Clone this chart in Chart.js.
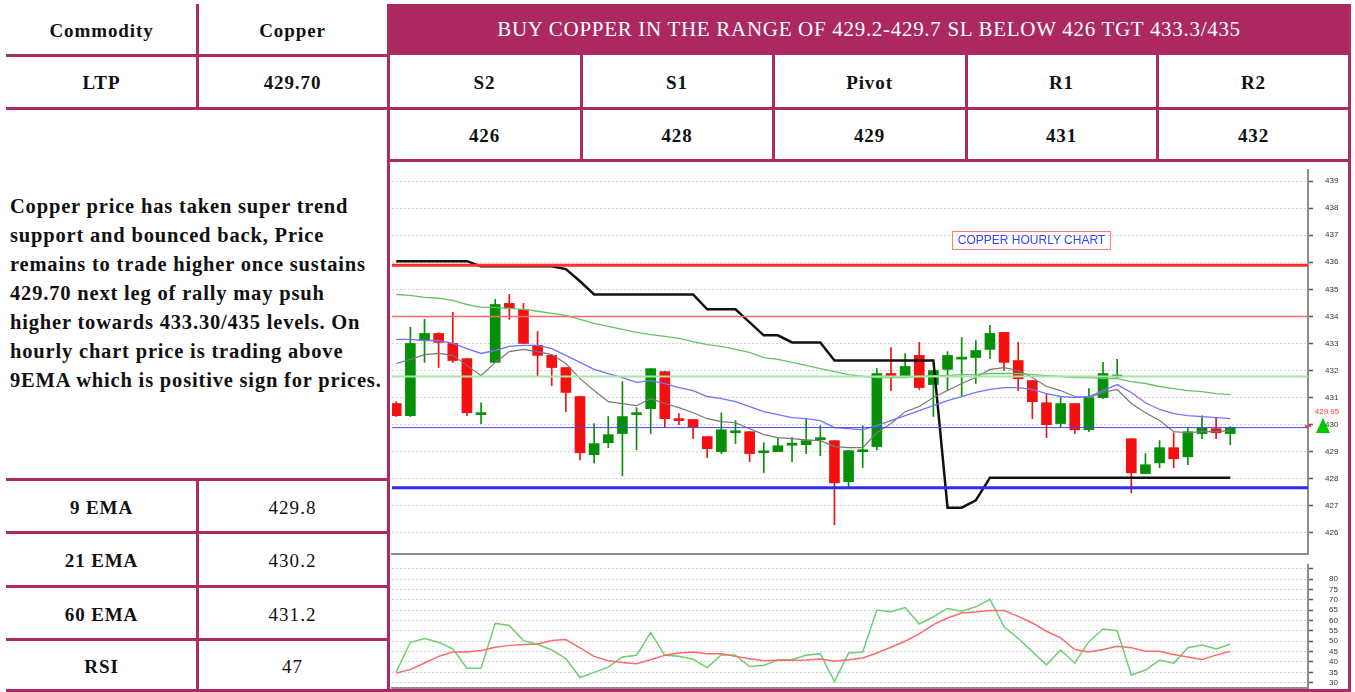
<!DOCTYPE html>
<html>
<head>
<meta charset="utf-8">
<script src="https://cdn.jsdelivr.net/npm/chart.js@4.4.1/dist/chart.umd.min.js"></script>
<style>
  body { margin:0; width:1355px; height:692px; background:#fff; position:relative; overflow:hidden; font-family:"Liberation Serif", serif; color:#111; }
  .ln { position:absolute; background:#ad2b62; }
  .cell { position:absolute; display:flex; align-items:center; justify-content:center; font-size:19px; font-weight:bold; letter-spacing:0.9px; }
  .cell.reg { font-weight:normal; letter-spacing:1.1px; }
  #banner { position:absolute; left:388px; top:4px; width:962px; height:51px; background:#ab2960; color:#fff;
            display:flex; align-items:center; justify-content:center; font-size:21px; letter-spacing:0.7px; }
  #note { position:absolute; left:10px; top:192px; font-size:20.5px; font-weight:bold; line-height:29px; white-space:nowrap; letter-spacing:0.82px; }
  #priceWrap { position:absolute; left:390px; top:162px; width:958px; height:394px; }
  #rsiWrap { position:absolute; left:390px; top:556px; width:958px; height:134px; }
  #chartTitle { position:absolute; left:952px; top:231px; width:157px; height:17px; border:1px solid #ff7a7a;
                color:#3f3fff; font:12px "Liberation Sans", Arial, sans-serif; line-height:17px; text-align:center; }
</style>
</head>
<body>
<div id="banner">BUY COPPER IN THE RANGE OF 429.2-429.7 SL BELOW 426 TGT 433.3/435</div>
<div id="note">Copper price has taken super trend<br>support and bounced back, Price<br>remains to trade higher once sustains<br>429.70 next leg of rally may psuh<br>higher towards 433.30/435 levels. On<br>hourly chart price is trading above<br>9EMA which is positive sign for prices.</div>
<div id="priceWrap"><canvas id="priceChart" width="958" height="394"></canvas></div>
<div id="rsiWrap"><canvas id="rsiChart" width="958" height="134"></canvas></div>
<div id="chartTitle">COPPER HOURLY CHART</div>
<script>
// table values
const levelNames = ["S2", "S1", "Pivot", "R1", "R2"];
const levelValues = ["426", "428", "429", "431", "432"];
const indNames = ["9 EMA", "21 EMA", "60 EMA", "RSI"];
const indValues = ["429.8", "430.2", "431.2", "47"];

// hourly candles
const opens = [430.78,430.33,433.11,433.37,433.0,432.44,430.37,432.3,434.48,434.26,
  432.93,432.56,432.11,431.04,428.89,429.33,429.67,430.37,430.59,431.96,
  430.22,430.19,429.56,429.0,429.7,429.74,428.96,429.0,429.24,429.26,
  429.44,429.41,427.89,429.0,429.19,431.89,431.81,432.56,431.48,432.04,
  432.42,432.48,432.78,433.41,432.37,431.63,430.81,430.04,430.78,429.81,
  431.0,431.76,429.48,428.19,428.59,429.15,428.81,429.67,429.85,429.67];
const highs = [430.85,433.6,433.89,433.4,434.15,432.44,430.81,434.63,434.81,434.48,
  433.44,432.56,432.11,431.04,430.04,430.3,431.59,430.63,432.07,431.96,
  430.41,430.19,429.56,430.44,430.15,429.74,429.33,429.52,429.52,430.22,
  429.96,429.41,429.04,429.96,432.07,432.85,432.63,433.04,432.0,432.7,
  433.22,433.11,433.67,433.41,433.04,431.63,431.15,431.0,430.78,431.33,
  432.3,432.41,429.48,428.93,429.41,429.7,429.89,430.33,430.26,429.93];
const lows = [430.3,430.3,432.3,432.11,432.3,430.33,430.04,432.3,433.89,433.0,
  431.81,431.44,430.48,428.7,428.59,429.15,428.11,429.07,429.67,429.89,
  430.0,429.48,428.78,428.93,429.3,428.63,428.22,429.0,428.63,428.93,
  428.85,426.3,427.63,428.41,429.07,431.26,431.74,431.3,430.3,431.26,
  431.07,431.52,432.44,432.0,431.26,430.22,429.52,429.89,429.67,429.74,
  430.96,431.74,427.48,428.19,428.41,428.41,428.52,429.48,429.48,429.26];
const closes = [430.33,433.0,433.37,433.04,432.37,430.44,430.4,434.44,434.3,433.0,
  432.56,432.11,431.19,428.96,429.3,429.63,430.3,430.42,432.07,430.22,
  430.15,429.89,429.11,429.81,429.74,428.93,429.0,429.22,429.28,429.41,
  429.52,427.85,429.04,429.07,431.89,431.8,432.15,431.37,432.0,432.56,
  432.46,432.74,433.37,432.3,431.7,430.85,430.0,430.78,429.81,431.0,
  431.89,431.8,428.22,428.52,429.15,428.74,429.74,429.89,429.7,429.89];

// indicators on the price panel
const superTrend = [436.04,436.04,436.04,436.04,436.04,436.04,435.85,435.85,435.85,435.85,
  435.85,435.85,435.75,435.3,434.81,434.81,434.81,434.81,434.81,434.81,
  434.81,434.81,434.26,434.26,434.26,433.78,433.3,433.3,433.04,433.04,
  433.04,432.37,432.37,432.37,432.37,432.37,432.37,432.37,432.37,426.93,
  426.93,427.2,428.04,428.04,428.04,428.04,428.04,428.04,428.04,428.04,
  428.04,428.04,428.04,428.04,428.04,428.04,428.04,428.04,428.04,428.04];
const ema9 = [432.26,432.41,432.59,432.63,432.56,432.19,431.81,432.30,432.70,432.78,
  432.70,432.59,432.26,431.70,431.26,430.85,430.78,430.70,430.96,430.78,
  430.63,430.44,430.22,430.11,430.07,429.85,429.63,429.52,429.48,429.44,
  429.41,429.19,429.15,429.15,429.70,430.04,430.48,430.67,431.00,431.26,
  431.52,431.74,432.04,432.11,432.00,431.74,431.41,431.26,431.04,431.00,
  431.19,431.30,430.78,430.44,430.15,429.74,429.70,429.74,429.74,429.78];
const ema21 = [433.15,433.15,433.11,433.11,433.0,432.81,432.63,432.74,432.89,432.93,
  432.93,432.81,432.56,432.30,432.04,431.89,431.74,431.56,431.63,431.52,
  431.37,431.26,431.04,430.96,430.85,430.67,430.48,430.37,430.26,430.22,
  430.15,429.89,429.85,429.81,429.96,430.15,430.33,430.52,430.70,430.89,
  431.04,431.19,431.30,431.37,431.37,431.30,431.15,431.04,431.0,431.04,
  431.26,431.48,431.19,430.81,430.56,430.41,430.33,430.30,430.26,430.22];
const ema60 = [434.81,434.78,434.70,434.67,434.59,434.44,434.33,434.33,434.30,434.26,
  434.19,434.11,434.04,433.89,433.74,433.63,433.52,433.41,433.33,433.26,
  433.19,433.07,432.96,432.89,432.78,432.67,432.48,432.41,432.30,432.19,
  432.07,431.96,431.85,431.78,431.74,431.74,431.74,431.78,431.81,431.81,
  431.85,431.85,431.89,431.89,431.89,431.85,431.81,431.78,431.74,431.74,
  431.70,431.70,431.59,431.52,431.41,431.33,431.26,431.22,431.15,431.11];

// horizontal levels: resistance 2, resistance 1, mid, pivot, support
const levels = [435.89, 434.0, 431.78, 429.89, 427.67];
const lastPrice = 429.95;

// RSI panel
const rsi = [35.2,49.5,51.3,49.5,46.3,37,37,58.6,57.6,50.3,
  48.5,45.8,41.6,32.5,35,37.5,42.4,43.2,54.2,43.2,
  42.7,41.3,37.3,43.5,43.2,37.8,38.3,41,41.2,43.2,
  44,30.6,44.3,44.8,65,64.2,66.2,58.3,61.8,65.8,
  64.5,66.6,70.2,57,51.4,45,38.6,45.8,39.4,49.8,
  55.9,55.1,33.7,36.1,40.9,39.4,46.9,48.2,46.3,48.5];
const rsiSignal = [34.7,36.3,39.5,42.7,44.8,44.8,45.5,47.1,48,48.4,
  48.7,50.3,50.8,46.8,42.7,40.6,39.8,39.2,41.1,43.2,
  44.3,44.8,44,44,42.7,41.6,40.6,40.8,40.8,40.9,
  41.4,40.3,41.1,41.9,44.3,47.1,50,53.5,58,61.2,
  63.6,64.1,64.8,64.8,62,58.8,54.8,51.6,46,44.8,
  46,47.6,46.8,45.2,45.2,43.6,42.4,41.2,43.3,45.2];

const priceTicks = [426,427,428,429,430,431,432,433,434,435,436,437,438,439];
const rsiTicks = [30,35,40,45,50,55,60,65,70,75,80,85];

// ---------- table drawing ----------
function box(cls, x, y, w, h, text) {
  const d = document.createElement("div");
  d.className = cls;
  d.style.left = x + "px"; d.style.top = y + "px";
  d.style.width = w + "px"; d.style.height = h + "px";
  if (text !== undefined) d.textContent = text;
  document.body.appendChild(d);
}
const hline = (x1, x2, y) => box("ln", x1, y, x2 - x1, 3);
const vline = (x, y1, y2) => box("ln", x, y1, 3, y2 - y1);

box("cell", 6, 4, 191, 53, "Commodity");
box("cell", 197, 4, 191, 53, "Copper");
box("cell", 6, 56, 191, 54, "LTP");
box("cell", 197, 56, 191, 54, "429.70");
const colX = [388, 581, 773, 966, 1157, 1350];
levelNames.forEach((n, i) => {
  box("cell", colX[i], 56, colX[i + 1] - colX[i], 54, n);
  box("cell", colX[i], 109, colX[i + 1] - colX[i], 53, levelValues[i]);
});
const rowY = [479, 532, 586, 639, 690];
indNames.forEach((n, i) => {
  box("cell", 6, rowY[i] + 2, 191, rowY[i + 1] - rowY[i], n);
  box("cell reg", 197, rowY[i] + 2, 191, rowY[i + 1] - rowY[i], indValues[i]);
});

hline(6, 388, 54); hline(6, 1350, 107); hline(388, 1350, 159);
vline(196, 4, 108);
[580, 772, 965, 1156].forEach(x => vline(x, 55, 160));
vline(387, 4, 690); vline(1348, 4, 690);
rowY.forEach(y => hline(6, y === 690 ? 1351 : 388, y - 1));
vline(196, 478, 690);

// ---------- charts ----------
const xMin = -0.3, xMax = 64.5;
const idx = opens.map((_, i) => i);
const candleColors = idx.map(i => closes[i] >= opens[i] ? "#079007" : "#f51010");
const pts = arr => arr.map((v, i) => ({ x: i, y: v }));
const flat = v => [{ x: xMin, y: v }, { x: xMax, y: v }];

function lineSet(data, color, width) {
  return { type: "line", data, borderColor: color, borderWidth: width, pointRadius: 0, fill: false, order: 1 };
}

const lastPricePlugin = {
  id: "lastPrice",
  afterDraw(chart) {
    const ctx = chart.ctx;
    const y = chart.scales.y.getPixelForValue(lastPrice);
    const x0 = chart.chartArea.right;
    ctx.save();
    ctx.fillStyle = "#ff4040";
    ctx.fillRect(x0 - 3, y - 1, 6, 2);
    ctx.font = '8px "Liberation Sans", Arial';
    ctx.textAlign = "center";
    ctx.textBaseline = "middle";
    ctx.fillText(lastPrice.toFixed(2), x0 + 19, y - 14);
    ctx.fillStyle = "#00c800";
    ctx.beginPath();
    ctx.moveTo(x0 + 15, y - 8);
    ctx.lineTo(x0 + 8, y + 7);
    ctx.lineTo(x0 + 22, y + 7);
    ctx.closePath();
    ctx.fill();
    ctx.restore();
  }
};

function rightAxis(min, max, tickList, labelFn, pad) {
  return {
    position: "right", min, max,
    afterBuildTicks: s => { s.ticks = tickList.map(v => ({ value: v })); },
    afterFit: s => { s.width = 40; s.paddingTop = 0; s.paddingBottom = 0; },
    grid: { color: "#d2d2d2", lineWidth: 1, drawTicks: true, tickLength: 5, tickColor: "#555", tickWidth: 1.5 },
    border: { display: true, color: "#8c8c8c", width: 2, dash: [2, 2] },
    ticks: { font: { size: 8, family: "Liberation Sans" }, color: "#333", padding: pad, autoSkip: false, callback: labelFn }
  };
}
const bottomAxis = {
  type: "linear", min: xMin, max: xMax, offset: false,
  afterFit: s => { s.height = 0; },
  grid: { display: false },
  ticks: { display: false },
  border: { display: true, color: "#8c8c8c", width: 2 }
};

new Chart(document.getElementById("priceChart"), {
  type: "bar",
  data: {
    datasets: [
      lineSet(flat(levels[0]), "#ff2f2f", 3),
      lineSet(flat(levels[1]), "#ff6b6b", 1.5),
      lineSet(flat(levels[2]), "#a6e6a6", 2),
      lineSet(flat(levels[3]), "#4646ff", 1),
      lineSet(flat(levels[4]), "#2d2dff", 3),
      lineSet(pts(ema60), "#66c466", 1.3),
      lineSet(pts(ema21), "#7373ff", 1.3),
      lineSet(pts(ema9), "#777777", 1.2),
      lineSet(pts(superTrend), "#111111", 2.5),
      { type: "bar", data: idx.map(i => ({ x: i, y: [opens[i], closes[i]] })), backgroundColor: candleColors,
        barThickness: 10, minBarLength: 2, grouped: false, order: 2 },
      { type: "bar", data: idx.map(i => ({ x: i, y: [lows[i], highs[i]] })), backgroundColor: candleColors,
        barThickness: 1, grouped: false, order: 3 }
    ]
  },
  options: {
    responsive: false, animation: false, devicePixelRatio: 1,
    layout: { padding: { left: 2, top: 8, right: 0, bottom: 2 } },
    plugins: { legend: { display: false }, tooltip: { enabled: false } },
    scales: {
      x: bottomAxis,
      y: rightAxis(425.22, 439.41, priceTicks, v => v, 12)
    }
  },
  plugins: [lastPricePlugin]
});

new Chart(document.getElementById("rsiChart"), {
  type: "line",
  data: {
    datasets: [
      lineSet(pts(rsiSignal), "#ff6a6a", 1.5),
      lineSet(pts(rsi), "#6fcf6f", 1.5)
    ]
  },
  options: {
    responsive: false, animation: false, devicePixelRatio: 1,
    layout: { padding: { left: 2, top: 9, right: 0, bottom: 2 } },
    plugins: { legend: { display: false }, tooltip: { enabled: false } },
    scales: {
      x: bottomAxis,
      y: rightAxis(27.45, 86.75, rsiTicks, v => v > 80 ? "" : v, 16)
    }
  }
});
</script>
</body>
</html>
